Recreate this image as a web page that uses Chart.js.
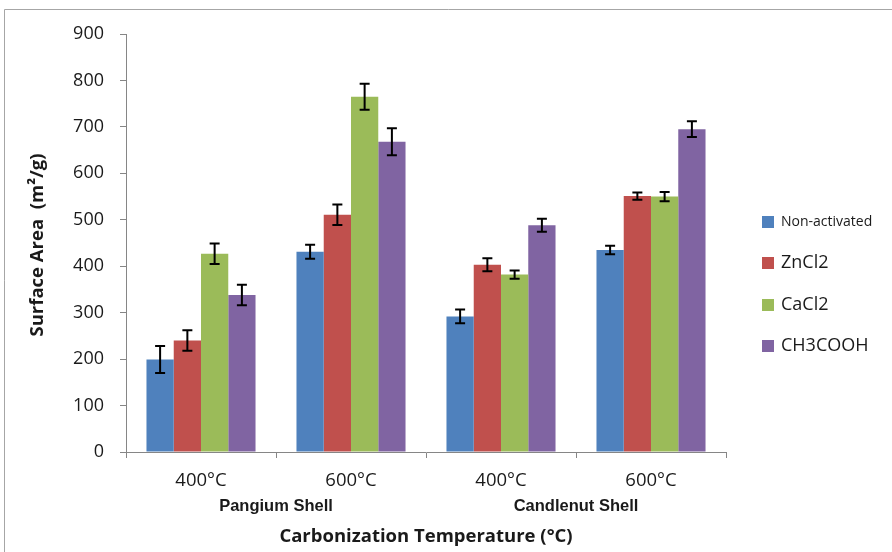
<!DOCTYPE html>
<html>
<head>
<meta charset="utf-8">
<script src="https://cdn.jsdelivr.net/npm/chart.js@4"></script>
<style>
    html, body { margin: 0; padding: 0; background: #fff; }
    #wrap { position: relative; width: 892px; height: 552px; }
</style>
</head>
<body>
<div id="wrap"><canvas id="chart" width="892" height="552"></canvas></div>
<script>
const categories = ['400°C', '600°C', '400°C', '600°C'];
const groups = ['Pangium Shell', 'Candlenut Shell'];
const seriesNames = ['Non-activated', 'ZnCl2', 'CaCl2', 'CH3COOH'];
const nonActivated = [199, 431, 292, 435];
const nonActivatedErr = [29, 15, 15, 9];
const znCl2 = [240, 511, 403, 551];
const znCl2Err = [22, 22, 14, 8];
const caCl2 = [427, 765, 382, 550];
const caCl2Err = [22, 28, 9, 10];
const ch3cooh = [338, 668, 488, 695];
const ch3coohErr = [22, 29, 14, 17];
const yTicks = [0, 100, 200, 300, 400, 500, 600, 700, 800, 900];

const colors = ['#4f81bd', '#c0504d', '#9bbb59', '#8064a2'];
const errors = [nonActivatedErr, znCl2Err, caCl2Err, ch3coohErr];
const axisColor = '#868686';
const textColor = '#1a1a1a';

const errorBars = {
    id: 'errorBars',
    afterDatasetsDraw(chart) {
        const { ctx, scales: { y } } = chart;
        ctx.save();
        ctx.strokeStyle = '#000';
        ctx.lineWidth = 2;
        chart.data.datasets.forEach((ds, i) => {
            const meta = chart.getDatasetMeta(i);
            meta.data.forEach((bar, j) => {
                const v = ds.data[j];
                const e = errors[i][j];
                const top = y.getPixelForValue(v + e);
                const bottom = y.getPixelForValue(v - e);
                ctx.beginPath();
                ctx.moveTo(bar.x, top);
                ctx.lineTo(bar.x, bottom);
                ctx.moveTo(bar.x - 5, top);
                ctx.lineTo(bar.x + 5, top);
                ctx.moveTo(bar.x - 5, bottom);
                ctx.lineTo(bar.x + 5, bottom);
                ctx.stroke();
            });
        });
        ctx.restore();
    }
};

const decorations = {
    id: 'decorations',
    afterDraw(chart) {
        const { ctx, chartArea, scales: { x } } = chart;
        ctx.save();

        // frame (top + left edges)
        ctx.strokeStyle = '#a6a6a6';
        ctx.lineWidth = 1;
        ctx.beginPath();
        ctx.moveTo(4.5, 552);
        ctx.lineTo(4.5, 9.5);
        ctx.lineTo(892, 9.5);
        ctx.stroke();

        // group labels
        ctx.fillStyle = textColor;
        ctx.textAlign = 'center';
        ctx.textBaseline = 'middle';
        ctx.font = "bold 16.5px 'Liberation Sans', Arial, sans-serif";
        groups.forEach((g, i) => {
            const cx = (x.getPixelForValue(i * 2) + x.getPixelForValue(i * 2 + 1)) / 2;
            ctx.fillText(g, cx, 506);
        });

        // axis titles
        ctx.font = "bold 18.5px 'Open Sans', sans-serif";
        ctx.fillText('Carbonization Temperature (°C)', (chartArea.left + chartArea.right) / 2, 537);

        ctx.save();
        ctx.translate(38, (chartArea.top + chartArea.bottom) / 2 + 2);
        ctx.rotate(-Math.PI / 2);
        ctx.fillText('Surface Area  (m²/g)', 0, 0);
        ctx.restore();

        // legend
        const legendY = [222, 263, 305, 346];
        const legendFont = [14, 18, 18, 18];
        ctx.textAlign = 'left';
        seriesNames.forEach((name, i) => {
            ctx.fillStyle = colors[i];
            ctx.fillRect(762, legendY[i] - 6, 12, 12);
            ctx.fillStyle = textColor;
            ctx.font = legendFont[i] + "px 'Open Sans', sans-serif";
            ctx.fillText(name, 781, legendY[i]);
        });

        ctx.restore();
    }
};

const datasetValues = [nonActivated, znCl2, caCl2, ch3cooh];

new Chart(document.getElementById('chart'), {
    type: 'bar',
    data: {
        labels: categories,
        datasets: seriesNames.map((name, i) => ({
            label: name,
            data: datasetValues[i],
            backgroundColor: colors[i],
            borderWidth: 0,
            categoryPercentage: 0.727,
            barPercentage: 1,
        })),
    },
    options: {
        responsive: false,
        animation: false,
        devicePixelRatio: 1,
        layout: {
            padding: { left: 0, top: 34, right: 166, bottom: 0 },
        },
        plugins: {
            legend: { display: false },
            tooltip: { enabled: false },
        },
        scales: {
            x: {
                afterFit(scale) { scale.height = 100; },
                grid: {
                    offset: true,
                    drawOnChartArea: false,
                    drawTicks: true,
                    tickLength: 6,
                    color: axisColor,
                },
                border: { color: axisColor, width: 1 },
                ticks: {
                    color: textColor,
                    padding: 12,
                    font: { family: "'Open Sans', sans-serif", size: 18.5 },
                    maxRotation: 0,
                },
            },
            y: {
                min: 0,
                max: 900,
                afterFit(scale) { scale.width = 126; },
                afterBuildTicks(scale) { scale.ticks = yTicks.map((v) => ({ value: v })); },
                grid: {
                    drawOnChartArea: false,
                    drawTicks: true,
                    tickLength: 6,
                    color: axisColor,
                },
                border: { color: axisColor, width: 1 },
                ticks: {
                    color: textColor,
                    padding: 16,
                    font: { family: "'Open Sans', sans-serif", size: 18 },
                },
            },
        },
    },
    plugins: [errorBars, decorations],
});
</script>
</body>
</html>
